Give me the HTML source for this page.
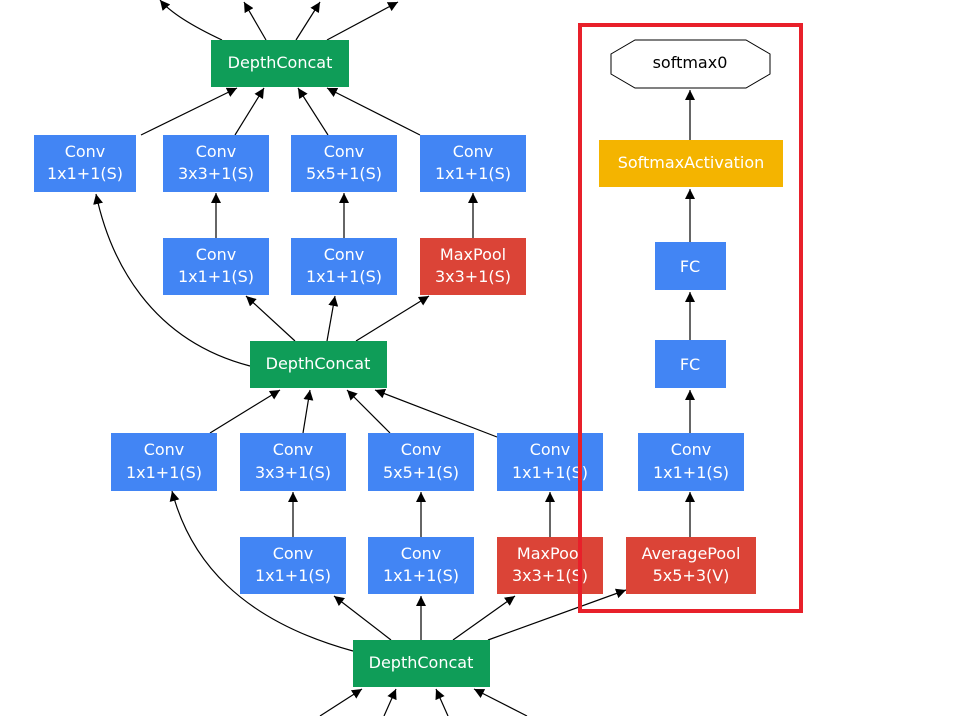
<!DOCTYPE html>
<html><head><meta charset="utf-8"><style>
body{margin:0;background:#fff}
svg text{font-family:"DejaVu Sans","Liberation Sans",sans-serif;font-size:16px;fill:#fff;text-anchor:middle}
</style></head><body>
<svg width="963" height="716" viewBox="0 0 963 716" xmlns="http://www.w3.org/2000/svg">
<defs><marker id="a" viewBox="0 0 10 10" refX="10" refY="5" markerWidth="10" markerHeight="10" markerUnits="userSpaceOnUse" orient="auto"><path d="M0,0L10,5L0,10z" fill="#000"/></marker></defs>
<g stroke="#000" stroke-width="1.2" fill="none" marker-end="url(#a)">
<!-- top edges exiting -->
<path d="M222,40 C190,25 170,12 160,0" marker-end=""/>
<path d="M266,40 L244,2"/>
<path d="M296,40 L320,2"/>
<path d="M327,40 L398,2"/>
<!-- row1 to top DC -->
<path d="M141,135 L237,88"/>
<path d="M235,135 L264,88"/>
<path d="M328,135 L298,88"/>
<path d="M420,135 L327,88"/>
<!-- row2 to row1 -->
<path d="M216,238 L216,193"/>
<path d="M344,238 L344,193"/>
<path d="M473,238 L473,193"/>
<!-- middle DC to row1/row2 -->
<path d="M250,366 C150,340 110,260 96,194"/>
<path d="M295,341 L246,296"/>
<path d="M327,341 L335,296"/>
<path d="M356,341 L429,296"/>
<!-- row3 to middle DC -->
<path d="M210,433 L280,390"/>
<path d="M303,433 L310,390"/>
<path d="M390,433 L347,390"/>
<path d="M497,437 L375,390"/>
<!-- row4 to row3 -->
<path d="M293,537 L293,492"/>
<path d="M421,537 L421,492"/>
<path d="M550,537 L550,492"/>
<!-- bottom DC -->
<path d="M353,651 C240,620 190,560 172,491"/>
<path d="M391,640 L334,596"/>
<path d="M421,640 L421,596"/>
<path d="M453,640 L515,596"/>
<path d="M488,640 L626,590"/>
<!-- bottom incoming -->
<path d="M320,716 L362,689"/>
<path d="M384,716 L396,689"/>
<path d="M448,716 L436,689"/>
<path d="M527,716 L474,689"/>
<!-- right column -->
<path d="M690,537 L690,492"/>
<path d="M690,433 L690,390"/>
<path d="M690,340 L690,292"/>
<path d="M690,242 L690,189"/>
<path d="M690,140 L690,90"/>
</g>
<g>
<rect x="211" y="40" width="138" height="47" fill="#0f9d58"/><text x="280" y="68">DepthConcat</text>
<rect x="250" y="341" width="137" height="47" fill="#0f9d58"/><text x="318" y="369">DepthConcat</text>
<rect x="353" y="640" width="137" height="47" fill="#0f9d58"/><text x="421" y="668">DepthConcat</text>

<g fill="#4285f4">
<rect x="34" y="135" width="102" height="57"/><rect x="163" y="135" width="106" height="57"/><rect x="291" y="135" width="106" height="57"/><rect x="420" y="135" width="106" height="57"/>
<rect x="163" y="238" width="106" height="57"/><rect x="291" y="238" width="106" height="57"/>
<rect x="111" y="433" width="106" height="58"/><rect x="240" y="433" width="106" height="58"/><rect x="368" y="433" width="106" height="58"/><rect x="497" y="433" width="106" height="58"/><rect x="638" y="433" width="106" height="58"/>
<rect x="240" y="537" width="106" height="57"/><rect x="368" y="537" width="106" height="57"/>
<rect x="655" y="242" width="71" height="48"/><rect x="655" y="340" width="71" height="48"/>
</g>
<g fill="#db4437"><rect x="420" y="238" width="106" height="57"/><rect x="497" y="537" width="106" height="57"/><rect x="626" y="537" width="130" height="57"/></g>
<rect x="599" y="140" width="184" height="47" fill="#f4b400"/>
<polygon points="635,40 746,40 770,54 770,74 746,88 635,88 611,74 611,54" fill="#fff" stroke="#000" stroke-width="1"/>
</g>
<g>
<text x="85" y="157">Conv</text><text x="85" y="179">1x1+1(S)</text>
<text x="216" y="157">Conv</text><text x="216" y="179">3x3+1(S)</text>
<text x="344" y="157">Conv</text><text x="344" y="179">5x5+1(S)</text>
<text x="473" y="157">Conv</text><text x="473" y="179">1x1+1(S)</text>
<text x="216" y="260">Conv</text><text x="216" y="282">1x1+1(S)</text>
<text x="344" y="260">Conv</text><text x="344" y="282">1x1+1(S)</text>
<text x="473" y="260">MaxPool</text><text x="473" y="282">3x3+1(S)</text>
<text x="164" y="455">Conv</text><text x="164" y="478">1x1+1(S)</text>
<text x="293" y="455">Conv</text><text x="293" y="478">3x3+1(S)</text>
<text x="421" y="455">Conv</text><text x="421" y="478">5x5+1(S)</text>
<text x="550" y="455">Conv</text><text x="550" y="478">1x1+1(S)</text>
<text x="691" y="455">Conv</text><text x="691" y="478">1x1+1(S)</text>
<text x="293" y="559">Conv</text><text x="293" y="581">1x1+1(S)</text>
<text x="421" y="559">Conv</text><text x="421" y="581">1x1+1(S)</text>
<text x="550" y="559">MaxPool</text><text x="550" y="581">3x3+1(S)</text>
<text x="691" y="559">AveragePool</text><text x="691" y="581">5x5+3(V)</text>
<text x="690" y="272">FC</text><text x="690" y="370">FC</text>
<text x="691" y="168">SoftmaxActivation</text>
<text x="690" y="68" style="fill:#000">softmax0</text>
</g>
<rect x="580" y="25" width="221" height="586" fill="none" stroke="#e8202a" stroke-width="4"/>
</svg>
</body></html>
